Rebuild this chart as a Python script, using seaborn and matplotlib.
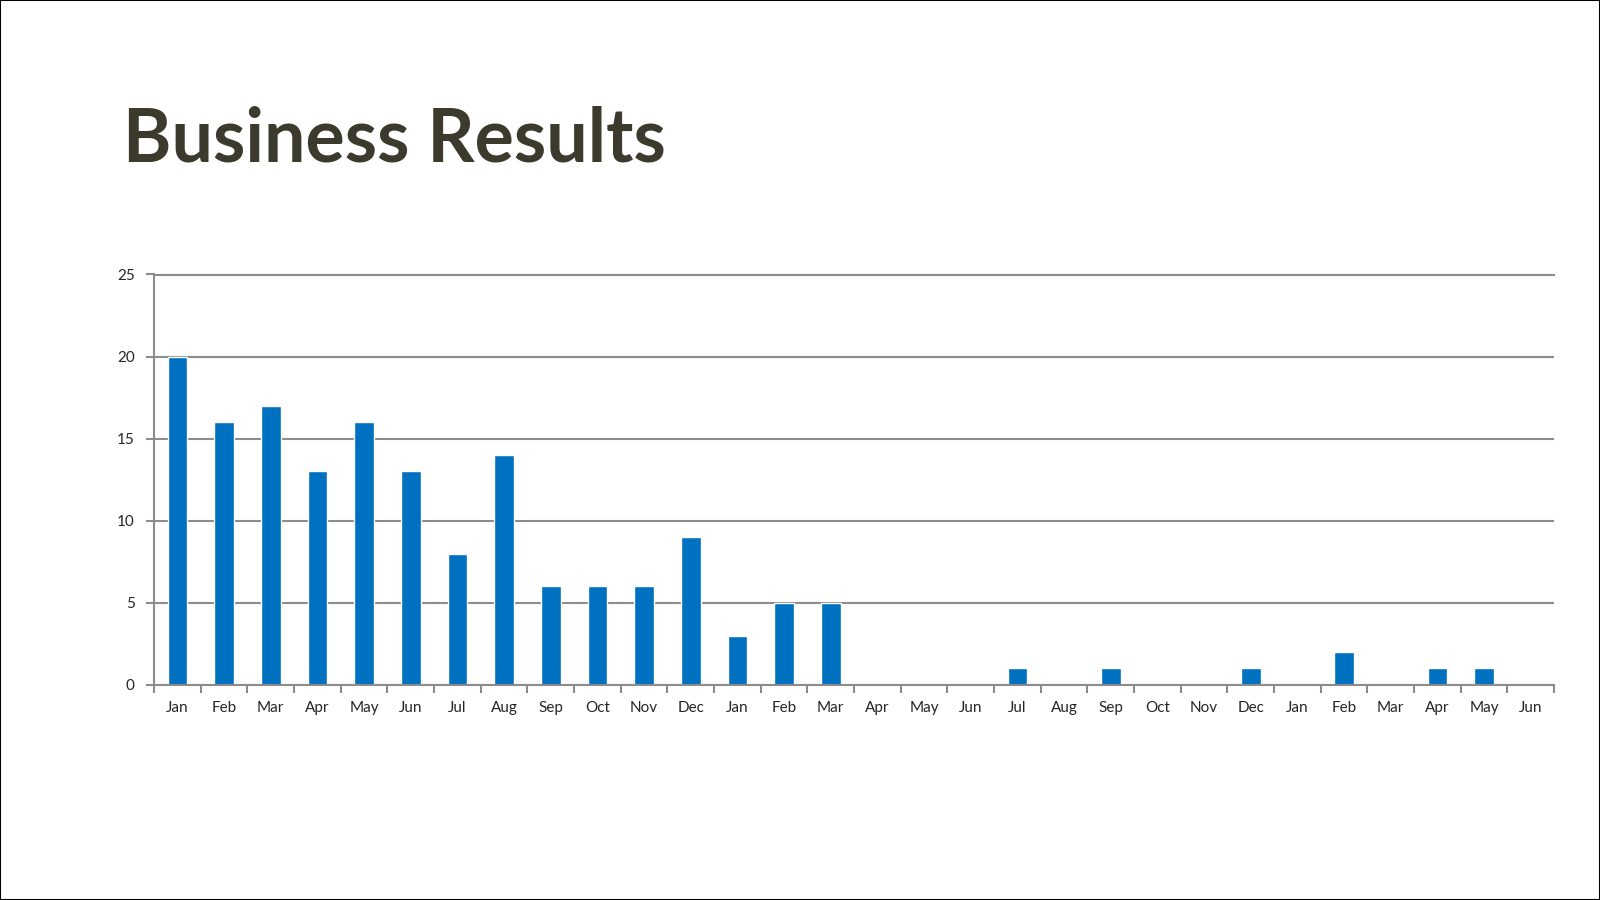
"""Business Results bar chart."""

import numpy as np
import pandas as pd
import matplotlib.pyplot as plt
from matplotlib.patches import Rectangle
import seaborn as sns

MONTHS = [
  "Jan", "Feb", "Mar", "Apr", "May", "Jun",
  "Jul", "Aug", "Sep", "Oct", "Nov", "Dec",
  "Jan", "Feb", "Mar", "Apr", "May", "Jun",
  "Jul", "Aug", "Sep", "Oct", "Nov", "Dec",
  "Jan", "Feb", "Mar", "Apr", "May", "Jun",
]
VALUES = [
  20, 16, 17, 13, 16, 13, 8, 14, 6, 6, 6, 9,
  3, 5, 5, 0, 0, 0, 1, 0, 1, 0, 0, 1,
  0, 2, 0, 1, 1, 0,
]
Y_TICKS = [0, 5, 10, 15, 20, 25]

BLUE = "#0070C0"
GRID = "#8c8c8c"
TEXT = "#262626"
TITLE = "#3b3a2c"

sns.set_style("white")
plt.rcParams["font.family"] = ["Lato", "DejaVu Sans"]

df = pd.DataFrame({"pos": range(len(VALUES)), "value": VALUES})

fig = plt.figure(figsize=(16, 9), dpi=100)
ax = fig.add_axes([0.0963, 0.239, 0.875, 0.456])

sns.barplot(
  data=df,
  x="pos",
  y="value",
  color=BLUE,
  saturation=1,
  width=0.42,
  ax=ax,
)

# Axis formatting
ax.set_xlim(-0.5, len(VALUES) - 0.5)
ax.set_ylim(0, 25)
ax.set_yticks(Y_TICKS)
ax.set_xticks(range(len(MONTHS)), labels=MONTHS)
ax.set_xticks(np.arange(-0.5, len(MONTHS)), minor=True)
ax.tick_params(axis="x", which="major", bottom=False, pad=8,
               labelsize=11, labelcolor=TEXT)
ax.tick_params(axis="x", which="minor", bottom=True, length=6, width=1.5,
               color=GRID, direction="out")
ax.tick_params(axis="y", left=True, length=6, width=1.5, color=GRID, pad=8,
               labelsize=11, labelcolor=TEXT)
ax.set_xlabel("")
ax.set_ylabel("")

ax.grid(axis="y", color=GRID, linewidth=1.5)
ax.set_axisbelow(True)
ax.spines["right"].set_visible(False)
for side in ["left", "bottom", "top"]:
  ax.spines[side].set_color(GRID)
  ax.spines[side].set_linewidth(1.5)

# Title and slide border
fig.text(0.077, 0.82, "Business Results", fontsize=53, fontweight="bold",
         color=TITLE, ha="left", va="baseline")
fig.patches.append(Rectangle((0, 0), 1, 1, transform=fig.transFigure,
                             fill=False, edgecolor="black", linewidth=1.5))

plt.savefig("out.png", dpi=100, facecolor="white")
